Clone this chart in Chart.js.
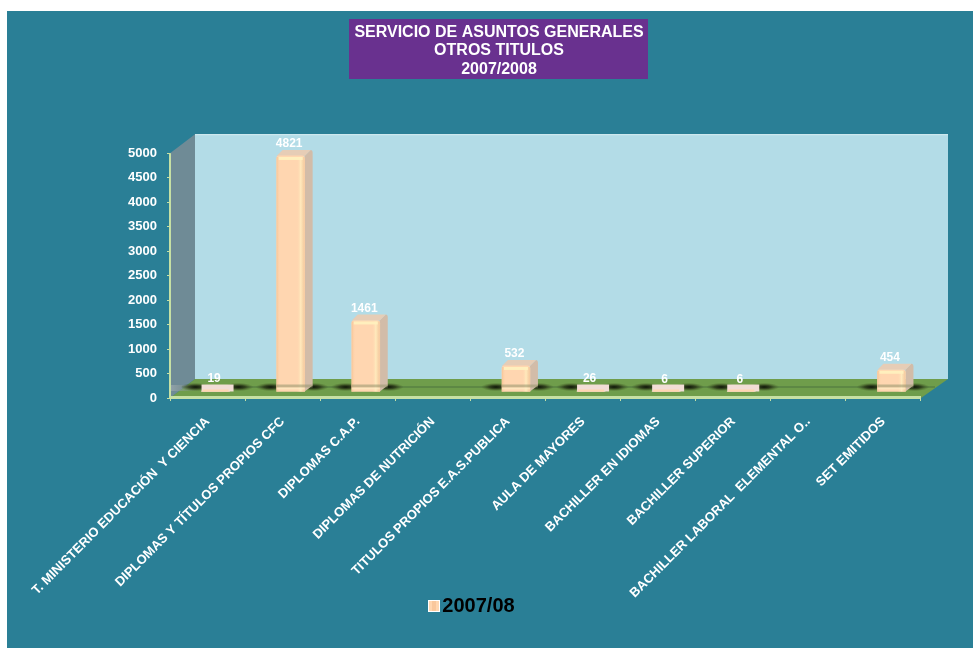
<!DOCTYPE html>
<html>
<head>
<meta charset="utf-8">
<style>html,body{margin:0;padding:0;background:#fff}canvas{display:block}</style>
<script src="https://cdn.jsdelivr.net/npm/chart.js@4"></script>
</head>
<body>
<canvas id="c" width="973" height="648"></canvas>
<script>
const categories = [
  "T. MINISTERIO EDUCACIÓN  Y CIENCIA",
  "DIPLOMAS Y TÍTULOS PROPIOS CFC",
  "DIPLOMAS C.A.P.",
  "DIPLOMAS DE NUTRICIÓN",
  "TITULOS PROPIOS E.A.S.PUBLICA",
  "AULA DE MAYORES",
  "BACHILLER EN IDIOMAS",
  "BACHILLER SUPERIOR",
  "BACHILLER LABORAL  ELEMENTAL O..",
  "SET EMITIDOS"
];
const values = [19, 4821, 1461, null, 532, 26, 6, 6, null, 454];
const seriesName = "2007/08";
const titleLines = ["SERVICIO DE ASUNTOS GENERALES", "OTROS TITULOS", "2007/2008"];

const FONT = "'Liberation Sans', Arial, sans-serif";
const DX = 8, DY = -6;            // bar offset inside the 3D floor
const WALL_DX = 25, WALL_DY = -19;

const scene = {
  id: 'scene',
  beforeDraw(chart) {
    const { ctx, chartArea: a } = chart;
    ctx.save();
    ctx.fillStyle = '#fff';
    ctx.fillRect(0, 0, 973, 648);
    ctx.fillStyle = '#2a7f96';
    ctx.fillRect(7, 11, 966, 637);
    // title box
    ctx.fillStyle = '#69318f';
    ctx.fillRect(349, 19, 299, 60);
    // back wall
    ctx.fillStyle = '#b3dce7';
    ctx.fillRect(a.left + WALL_DX, a.top + WALL_DY, a.width + 2, a.height);
    ctx.fillStyle = '#d8eef3';
    ctx.fillRect(a.left + WALL_DX, a.top + WALL_DY, a.width + 2, 1);
    // side wall
    ctx.fillStyle = '#6f8b96';
    ctx.beginPath();
    ctx.moveTo(a.left, a.top);
    ctx.lineTo(a.left + WALL_DX, a.top + WALL_DY);
    ctx.lineTo(a.left + WALL_DX, a.bottom + WALL_DY);
    ctx.lineTo(a.left, a.bottom);
    ctx.closePath();
    ctx.fill();
    // floor
    ctx.fillStyle = '#6f9d4b';
    ctx.beginPath();
    ctx.moveTo(a.left, a.bottom);
    ctx.lineTo(a.left + WALL_DX, a.bottom + WALL_DY);
    ctx.lineTo(a.right + 27, a.bottom + WALL_DY);
    ctx.lineTo(a.right, a.bottom);
    ctx.closePath();
    ctx.fill();
    // faint streak running along the floor
    ctx.fillStyle = 'rgba(70,110,60,0.45)';
    ctx.fillRect(a.left + 12, a.bottom - 12, a.width + 2, 2);
    // floor front edge
    ctx.fillStyle = '#c6e0a4';
    ctx.fillRect(a.left, a.bottom - 2, a.width, 3);
    // wall streak near the floor
    const g = ctx.createLinearGradient(a.left, 0, a.left + 30, 0);
    g.addColorStop(0, 'rgba(150,165,175,0.9)');
    g.addColorStop(1, 'rgba(120,140,120,0)');
    ctx.fillStyle = g;
    ctx.fillRect(a.left - 1, a.bottom - 13, 30, 6);
    // y axis line
    ctx.fillStyle = '#c6e0a4';
    ctx.fillRect(a.left - 1, a.top, 2, a.height + 1);
    ctx.restore();
  },
  beforeDatasetsDraw(chart) {
    const { ctx } = chart;
    const meta = chart.getDatasetMeta(0);
    ctx.save();
    // shadows on the floor
    meta.data.forEach((el, i) => {
      if (values[i] == null) return;
      const cy = chart.scales.y.bottom - 11;
      [[-20, 15], [23, 15]].forEach(([off, rx]) => {
        const cx = el.x + DX + off;
        ctx.save();
        ctx.translate(cx, cy);
        ctx.scale(rx, 4.2);
        const rg = ctx.createRadialGradient(0, 0, 0, 0, 0, 1);
        rg.addColorStop(0, 'rgba(10,15,5,0.95)');
        rg.addColorStop(0.45, 'rgba(25,30,10,0.65)');
        rg.addColorStop(1, 'rgba(60,80,30,0)');
        ctx.fillStyle = rg;
        ctx.beginPath();
        ctx.arc(0, 0, 1, 0, Math.PI * 2);
        ctx.fill();
        ctx.restore();
      });
    });
    // bar side and top faces
    meta.data.forEach((el, i) => {
      if (values[i] == null) return;
      const hw = el.width / 2;
      const x0 = el.x - hw + DX, x1 = el.x + hw + DX;
      const top = el.y + DY, bot = el.base + DY;
      if (bot - top <= 10) return;
      ctx.fillStyle = '#d2bca8';
      ctx.beginPath();
      ctx.moveTo(x1, top);
      ctx.lineTo(x1 + 6, top - 6);
      ctx.quadraticCurveTo(x1 + 8, top - 6, x1 + 8, top - 3);
      ctx.lineTo(x1 + 8, bot - 6);
      ctx.lineTo(x1, bot);
      ctx.closePath();
      ctx.fill();
      ctx.fillStyle = '#e6cdb6';
      ctx.beginPath();
      ctx.moveTo(x0, top);
      ctx.lineTo(x0 + 6, top - 6);
      ctx.lineTo(x1 + 6, top - 6);
      ctx.lineTo(x1, top);
      ctx.closePath();
      ctx.fill();
    });
    ctx.translate(DX, DY);
  },
  afterDatasetsDraw(chart) {
    const { ctx } = chart;
    ctx.restore();
    const meta = chart.getDatasetMeta(0);
    ctx.save();
    meta.data.forEach((el, i) => {
      if (values[i] == null) return;
      const hw = el.width / 2;
      const x0 = el.x - hw + DX, x1 = el.x + hw + DX;
      const top = el.y + DY, bot = el.base + DY;
      const h = bot - top;
      if (h > 10) {
        const g = ctx.createLinearGradient(x0, 0, x1, 0);
        g.addColorStop(0, 'rgba(245,190,140,0.75)');
        g.addColorStop(0.14, 'rgba(255,216,178,0)');
        g.addColorStop(0.72, 'rgba(255,214,175,0)');
        g.addColorStop(0.86, 'rgba(255,236,190,0.9)');
        g.addColorStop(1, 'rgba(240,195,150,0.7)');
        ctx.fillStyle = g;
        ctx.fillRect(x0, top + 1, x1 - x0, h - 1);
        ctx.fillStyle = 'rgba(255,240,190,0.95)';
        ctx.fillRect(x0 + 2, top + 1, x1 - x0 - 4, 3);
        // reflected floor band at the foot of the bar
        ctx.fillStyle = 'rgba(150,150,110,0.55)';
        ctx.fillRect(x0, bot - 7, x1 - x0 + 8, 3);
        ctx.fillStyle = 'rgba(255,240,200,0.6)';
        ctx.fillRect(x0, bot - 4, x1 - x0, 2);
      } else {
        // very low bars read as a pale slab on the floor
        ctx.fillStyle = '#f2ddd6';
        ctx.fillRect(x0, bot - 7, x1 - x0 + 4, 7);
        ctx.fillStyle = '#ffd6b0';
        ctx.fillRect(x0 + 1, bot - 2, x1 - x0 - 2, 2);
      }
    });
    ctx.restore();
  },
  afterDraw(chart) {
    const { ctx, legend } = chart;
    const meta = chart.getDatasetMeta(0);
    ctx.save();
    ctx.fillStyle = '#fff';
    ctx.font = 'bold 12px ' + FONT;
    ctx.textAlign = 'center';
    ctx.textBaseline = 'middle';
    meta.data.forEach((el, i) => {
      if (values[i] == null) return;
      ctx.fillText(String(values[i]), el.x + 6.5, el.y - 18);
    });
    // legend swatch, placed close to its text
    const sx = (legend.left + legend.right) / 2 - 43;
    const sy = (legend.top + legend.bottom) / 2 - 6;
    ctx.fillStyle = '#ffffff';
    ctx.fillRect(sx, sy, 12, 12);
    ctx.fillStyle = '#ffd6b0';
    ctx.fillRect(sx + 1, sy + 1, 10, 10);
    ctx.fillStyle = '#f9c79c';
    ctx.fillRect(sx + 4, sy + 1, 4, 10);
    ctx.restore();
  },
  afterLayout(chart) {
    // legend sits left of the title's centre and overlaps the tall label band
    const l = chart.legend;
    l.left -= 28;
    l.right -= 28;
    l.top += 606 - (l.top + l.bottom) / 2;
    l.bottom = l.top + l.height;
  }
};

new Chart(document.getElementById('c'), {
  type: 'bar',
  data: {
    labels: categories,
    datasets: [{
      label: seriesName,
      data: values,
      backgroundColor: '#ffd6b0',
      borderRadius: { topLeft: 3, topRight: 3, bottomLeft: 0, bottomRight: 0 },
      borderSkipped: false,
      barThickness: 28
    }]
  },
  options: {
    responsive: false,
    animation: false,
    layout: { padding: { left: 77, right: 52, top: 0, bottom: 5 } },
    plugins: {
      tooltip: { enabled: false },
      title: {
        display: true,
        text: titleLines,
        color: '#ffffff',
        font: { family: FONT, size: 16, weight: 'bold', lineHeight: 1.16 },
        padding: { top: 23, bottom: 74.5 }
      },
      legend: {
        display: true,
        position: 'bottom',
        labels: {
          boxWidth: 5,
          boxHeight: 12,
          padding: 10,
          color: '#000000',
          font: { family: FONT, size: 20, weight: 'bold' },
          generateLabels() {
            return [{ text: seriesName, fillStyle: 'rgba(0,0,0,0)', strokeStyle: 'rgba(0,0,0,0)', lineWidth: 0, fontColor: '#000000', datasetIndex: 0 }];
          }
        }
      }
    },
    scales: {
      x: {
        grid: { drawOnChartArea: false, drawTicks: true, tickLength: 3, color: '#c6e0a4' },
        border: { display: false },
        ticks: {
          autoSkip: false, maxRotation: 45, minRotation: 45, padding: 13,
          color: '#ffffff',
          font: { family: FONT, size: 13, weight: 'bold' }
        },
        afterFit(s) { s.height = 205; s.paddingLeft = 0; s.paddingRight = 0; }
      },
      y: {
        min: 0, max: 5000,
        grid: { drawOnChartArea: false, drawTicks: true, tickLength: 3, color: '#c6e0a4' },
        border: { display: false },
        ticks: {
          stepSize: 500, padding: 10,
          color: '#ffffff',
          font: { family: FONT, size: 13, weight: 'bold' },
          callback(v) { return String(v); }
        },
        afterFit(s) { s.width = 93; }
      }
    }
  },
  plugins: [scene]
});
</script>
</body>
</html>
